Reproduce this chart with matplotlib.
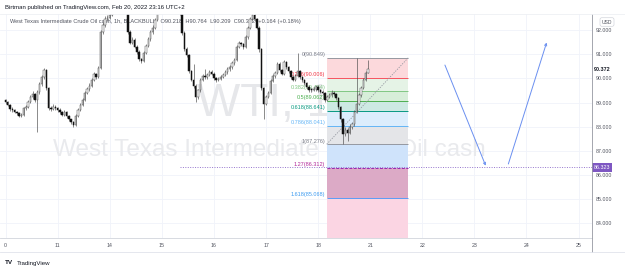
import numpy as np
import matplotlib
matplotlib.use("Agg")
import matplotlib.pyplot as plt

plt.rcParams["font.family"] = ["Liberation Sans", "DejaVu Sans"]

# ---- data ----
first_open = 89.10
closes = [
    89.02, 88.90, 88.72, 88.68, 88.60, 88.55, 88.46, 88.50, 88.76, 88.80,
    89.02, 89.22, 89.34, 89.10, 89.42, 89.76, 90.04, 90.34, 89.60, 88.76,
    88.74, 88.82, 88.76, 88.70, 88.60, 88.50, 88.62, 88.44, 88.30, 88.18,
    88.08, 88.45, 88.70, 88.90, 89.12, 89.40, 89.55, 89.70, 89.95, 90.18,
    90.05, 90.42, 91.90, 92.20, 92.45, 92.50, 92.60, 93.00, 93.30, 93.50,
    93.70, 93.60, 93.40, 93.10, 91.90, 91.46, 91.60, 91.30, 91.10, 90.78,
    90.72, 91.05, 91.35, 91.62, 91.90, 92.10, 92.42, 92.80, 93.10, 93.30,
    93.50, 93.60, 93.70, 93.60, 93.50, 93.30, 93.10, 92.70, 91.88, 91.20,
    90.95, 90.30, 89.95, 89.70, 89.22, 89.50, 89.95, 90.10, 90.05, 90.15,
    90.28, 90.20, 90.00, 89.93, 89.98, 90.05, 90.14, 90.26, 90.38, 90.45,
    90.62, 90.76, 91.30, 91.45, 91.42, 91.30, 91.70, 92.10, 92.45, 92.62,
    92.45, 92.10, 91.20, 89.60, 88.95, 89.24, 89.40, 89.90, 90.08, 90.22,
    90.60, 90.35, 90.20, 90.66, 90.46, 90.30, 90.05, 89.95, 90.10, 90.30,
    90.05, 89.92, 89.80, 89.66, 89.52, 89.50, 89.54, 89.66, 89.52, 89.45,
    89.38, 89.10, 89.24, 89.30, 89.38, 89.34, 89.20, 88.80, 88.30, 87.70,
    87.85, 87.75, 87.98, 88.10, 88.62, 88.95, 89.30, 89.60, 89.95, 90.218,
    90.372,
]
highs = [
    89.16, 89.06, 88.94, 88.80, 88.74, 88.66, 88.60, 88.58, 88.82, 88.90,
    89.10, 89.30, 89.48, 89.40, 89.50, 89.84, 90.12, 90.42, 90.38, 89.66,
    88.86, 88.92, 88.88, 88.82, 88.76, 88.66, 88.70, 88.66, 88.50, 88.34,
    88.22, 88.52, 88.78, 88.98, 89.20, 89.48, 89.64, 89.80, 90.02, 90.26,
    90.24, 90.50, 92.00, 92.34, 92.56, 92.62, 92.80, 93.10, 93.40, 93.62,
    93.80, 93.76, 93.66, 93.46, 93.16, 91.98, 91.70, 91.66, 91.36, 91.16,
    90.86, 91.12, 91.42, 91.70, 91.98, 92.20, 92.50, 92.90, 93.20, 93.40,
    93.60, 93.72, 93.84, 93.78, 93.68, 93.56, 93.36, 93.16, 92.76, 91.94,
    91.28, 91.00, 90.36, 90.60, 89.76, 89.58, 90.02, 90.20, 90.40, 90.24,
    90.36, 90.34, 90.26, 90.06, 90.06, 90.12, 90.22, 90.34, 90.46, 90.54,
    90.70, 90.86, 91.38, 91.56, 91.52, 91.48, 91.78, 92.18, 92.54, 92.72,
    92.70, 92.50, 92.16, 91.26, 89.66, 89.32, 89.48, 89.98, 90.16, 90.30,
    90.68, 90.66, 90.40, 90.74, 90.72, 90.52, 90.36, 90.12, 90.18, 91.05,
    90.36, 90.10, 89.98, 89.86, 89.72, 89.60, 89.64, 89.74, 89.72, 89.58,
    89.50, 89.42, 89.32, 89.40, 89.50, 89.46, 89.40, 89.24, 88.86, 88.36,
    88.00, 87.94, 88.10, 88.20, 88.70, 90.849, 89.38, 89.68, 90.02, 90.30,
    90.764,
]
lows = [
    88.95, 88.84, 88.66, 88.60, 88.55, 88.48, 88.40, 88.42, 88.46, 88.70,
    88.76, 88.98, 89.16, 89.02, 87.80, 89.36, 89.70, 89.98, 89.52, 88.70,
    88.66, 88.68, 88.70, 88.62, 88.54, 88.44, 88.46, 88.38, 88.24, 88.10,
    88.00, 88.04, 88.40, 88.64, 88.86, 89.06, 89.34, 89.48, 89.64, 89.90,
    89.98, 90.00, 90.38, 91.82, 92.14, 92.36, 92.44, 92.56, 92.90, 93.22,
    93.40, 93.50, 93.32, 92.96, 91.84, 91.40, 91.40, 91.24, 91.02, 90.72,
    90.64, 90.68, 91.00, 91.30, 91.56, 91.84, 92.04, 92.38, 92.74, 93.00,
    93.22, 93.42, 93.52, 93.50, 93.40, 93.22, 93.00, 92.60, 91.80, 91.12,
    90.88, 90.22, 89.88, 89.62, 89.02, 89.16, 89.44, 89.90, 89.98, 89.98,
    90.10, 90.12, 89.92, 89.86, 89.88, 89.92, 90.00, 90.08, 90.20, 90.32,
    90.40, 90.56, 90.70, 91.24, 91.34, 91.22, 91.26, 91.64, 92.04, 92.38,
    92.38, 92.02, 91.10, 89.50, 88.30, 88.88, 89.18, 89.34, 89.84, 90.02,
    90.16, 90.28, 90.12, 90.14, 90.40, 90.22, 89.98, 89.88, 89.90, 90.04,
    89.98, 89.84, 89.72, 89.58, 89.44, 89.42, 89.46, 89.48, 89.44, 89.38,
    89.30, 89.04, 89.06, 89.18, 89.24, 89.26, 89.12, 88.72, 88.20, 87.276,
    87.60, 87.40, 87.68, 87.90, 88.04, 88.56, 88.88, 89.22, 89.54, 89.88,
    90.209,
]

day_labels = ["0", "11", "14", "15", "16", "17", "18", "21", "22", "23", "24", "25"]
bars_per_day = 23
price_ticks = [84, 85, 86, 87, 88, 89, 90, 91, 92]

fib_high = 90.849
fib_low = 87.276
fib_levels = [0, 0.236, 0.382, 0.5, 0.618, 0.786, 1, 1.27, 1.618]
fib_prices = [90.849, 90.006, 89.484, 89.062, 88.641, 88.041, 87.276, 86.312, 85.068]
fib_line_colors = ["#9598a1", "#f7525f", "#81c784", "#4caf50", "#089981",
                   "#64b5f6", "#9598a1", "#9c27b0", "#5b9cf6"]
fib_text_colors = ["#787b86", "#f23645", "#81c784", "#4caf50", "#089981",
                   "#64b5f6", "#787b86", "#b22a9a", "#3d9bf0"]
fib_band_colors = ["#fcd9dc", "#e5f3e6", "#d7eed9", "#cde9e3", "#dcedfc",
                   "#e4e5e8", "#cfe3fb", "#dcaac6", "#fbd5e3"]
fib_box = [141.8, 177.8]

hline_price = 86.323
hline_start = 77.0
last_price = 90.372

arrow1_x = [194.0, 212.0]
arrow1_y = [90.55, 86.39]
arrow2_x = [222.0, 238.9]
arrow2_y = [86.46, 91.48]

# ---- figure ----
W, H = 625, 271
fig = plt.figure(figsize=(W / 100, H / 100), dpi=100)
fig.patch.set_facecolor("white")

def fx(px):
    return px / W

def fy(py):
    return 1 - py / H

ax = fig.add_axes([0, fy(238), fx(591.7), fy(14) - fy(238)])
ax.set_facecolor("white")
ax.set_xlim(-2.43, 258.8)
ax.set_ylim(83.40, 92.66)

n = len(closes)
x = np.arange(n)
c = np.array(closes)
o = np.concatenate([[first_open], c[:-1]])
hi = np.array(highs)
lo = np.array(lows)

# grid
grid_c = "#f0f3fa"
for k in range(len(day_labels)):
    ax.axvline(k * bars_per_day, color=grid_c, lw=0.6, zorder=0)
for p in price_ticks:
    ax.axhline(p, color=grid_c, lw=0.6, zorder=0)

# watermarks
ax.text(0.468, 0.60, "WTI, 1h", transform=ax.transAxes, ha="center", va="center",
        fontsize=33, color="#e6e7ea", zorder=0.5,
        family=["Liberation Sans Narrow", "Liberation Sans"])
ax.text(0.455, 0.395, "West Texas Intermediate Crude Oil cash", transform=ax.transAxes,
        ha="center", va="center", fontsize=17.5, color="#e9eaed", zorder=0.5,
        family=["Liberation Sans Narrow", "Liberation Sans"])

# fib bands
edges = fib_prices + [ax.get_ylim()[0]]
for j in range(len(fib_prices)):
    ax.fill_between(fib_box, edges[j], edges[j + 1], color=fib_band_colors[j],
                    lw=0, zorder=1)
for j, lv in enumerate(fib_levels):
    ls = (0, (3, 1.5)) if lv == 1.27 else "-"
    ax.hlines(fib_prices[j], fib_box[0], fib_box[1], color=fib_line_colors[j],
              lw=0.7, linestyles=ls, zorder=1.2)
    lab = f"{lv:g}({fib_prices[j]:.3f})"
    ax.text(fib_box[0] - 0.6, fib_prices[j] + 0.03, lab, ha="right", va="bottom",
            fontsize=4.0, color=fib_text_colors[j], zorder=1.3)
ax.plot(fib_box, [fib_low, fib_high], color="#9598a1", lw=0.6, ls=(0, (1.5, 1.5)), zorder=1.4)

# horizontal line
ax.hlines(hline_price, hline_start, ax.get_xlim()[1], color="#9575cd", lw=0.7,
          linestyles=(0, (1, 1.5)), zorder=1.5)

# header line 2 sits under the candles, like on the site
ax.text(fx(10), fy(22),
        "West Texas Intermediate Crude Oil cash, 1h, BLACKBULL   O90.218  H90.764  "
        "L90.209  C90.372  +0.164 (+0.18%)",
        transform=fig.transFigure, ha="left", va="center", fontsize=4.1,
        color="#50535e", zorder=1.6, clip_on=False)

# candles
up = c >= o
ax.vlines(x, lo, hi, color="#4a4a4a", lw=0.45, zorder=2)
body = np.where(np.abs(c - o) < 0.02, 0.02, c - o)
ax.bar(x[up], body[up], bottom=o[up], width=0.62, color="white",
       edgecolor="#4a4a4a", lw=0.35, zorder=3)
ax.bar(x[~up], body[~up], bottom=o[~up], width=0.62, color="#111111",
       edgecolor="#111111", lw=0.35, zorder=3)

# arrows
for ax_, ay_ in [(arrow1_x, arrow1_y), (arrow2_x, arrow2_y)]:
    ax.annotate("", xy=(ax_[1], ay_[1]), xytext=(ax_[0], ay_[0]),
                arrowprops=dict(arrowstyle="->", color="#6a8ff0", lw=0.7,
                                mutation_scale=4, shrinkA=0, shrinkB=0),
                zorder=4)

# axes styling
for s in ["top", "left", "right"]:
    ax.spines[s].set_visible(False)
ax.spines["bottom"].set_color("#d1d4dc")
ax.spines["bottom"].set_linewidth(0.6)
ax.set_xticks([k * bars_per_day for k in range(len(day_labels))])
ax.set_xticklabels(day_labels)
ax.yaxis.tick_right()
ax.set_yticks(price_ticks)
ax.set_yticklabels([f"{p:.3f}" for p in price_ticks])
ax.tick_params(axis="x", length=0, pad=3.5, labelsize=3.8, labelcolor="#50535e")
ax.tick_params(axis="y", length=0, pad=3.0, labelsize=3.8, labelcolor="#50535e")

# frame lines
fig.add_artist(plt.Line2D([fx(591.7), fx(591.7)], [fy(14), fy(252)], color="#9598a1", lw=0.6))
fig.add_artist(plt.Line2D([0, 1], [fy(252), fy(252)], color="#e0e3eb", lw=0.6))
fig.add_artist(plt.Line2D([0, 1], [fy(14), fy(14)], color="#eef0f4", lw=0.6))

# price labels on axis
ax.text(1.004, last_price, f"{last_price:.3f}", transform=ax.get_yaxis_transform(),
        ha="left", va="center", fontsize=3.9, color="#131722", fontweight="bold",
        bbox=dict(boxstyle="square,pad=0.3", fc="white", ec="none"), zorder=6, clip_on=False)
ax.text(1.004, hline_price, f"{hline_price:.3f}", transform=ax.get_yaxis_transform(),
        ha="left", va="center", fontsize=3.9, color="white",
        bbox=dict(boxstyle="square,pad=0.35", fc="#7e57c2", ec="none"), zorder=6, clip_on=False)

fig.text(fx(607), fy(22), "USD", ha="center", va="center", fontsize=3.6, color="#50535e",
         bbox=dict(boxstyle="round,pad=0.35", fc="white", ec="#c9ccd4", lw=0.4))

# header text
fig.text(fx(5), fy(7), "Birtman published on TradingView.com, Feb 20, 2022 23:16 UTC+2",
         ha="left", va="center", fontsize=4.3, color="#131722")

# footer
fig.text(fx(5), fy(263), "TV", ha="left", va="center", fontsize=4.6, color="#131722",
         fontweight="bold")
fig.text(fx(17), fy(263), "TradingView", ha="left", va="center", fontsize=4.4,
         color="#131722")

fig.savefig("out.png", dpi=100, facecolor="white")
